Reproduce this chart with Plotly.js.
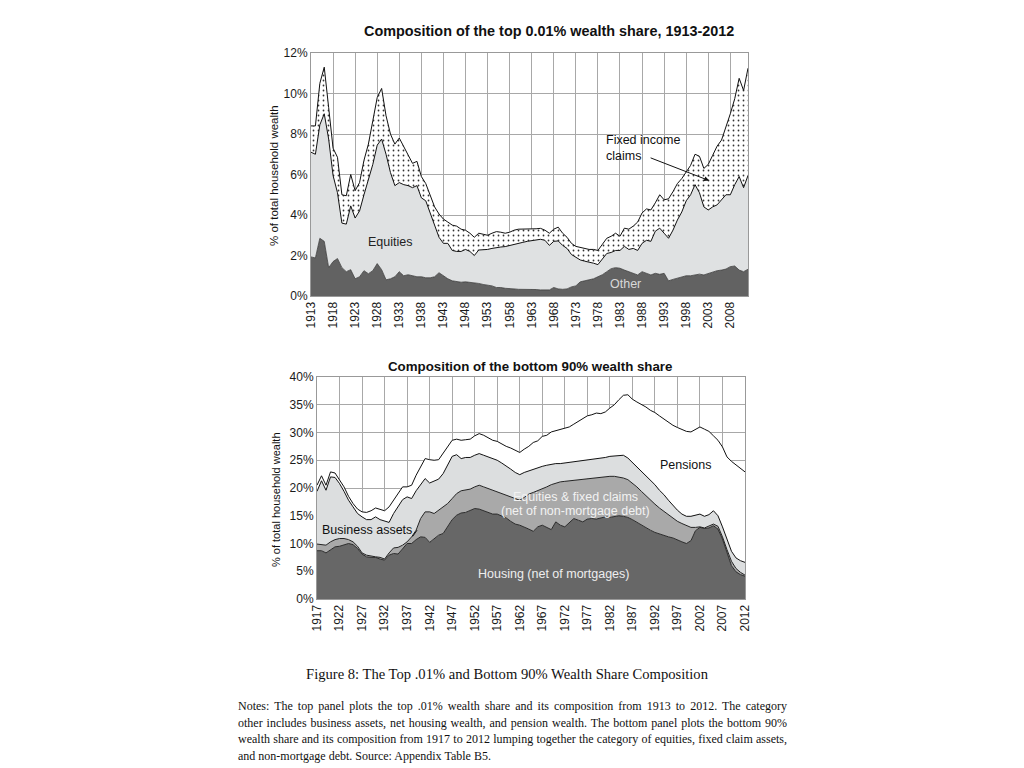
<!DOCTYPE html>
<html>
<head>
<meta charset="utf-8">
<script src="https://cdn.plot.ly/plotly-3.0.1.min.js"></script>
<style>
  html, body { margin: 0; padding: 0; background: #fff; }
  #wrap { position: relative; width: 1024px; height: 768px; overflow: hidden; }
  #chart { position: absolute; left: 0; top: 0; width: 1024px; height: 768px; }
  .cap { position: absolute; font-family: "Liberation Serif", "DejaVu Serif", serif; color: #111; white-space: nowrap; }
  #fig { left: 0; width: 1014px; top: 666px; text-align: center; font-size: 14.6px; }
  #notes { left: 238px; width: 549px; top: 698px; font-size: 12px; line-height: 16.6px; }
  #notes div { text-align: justify; text-align-last: justify; white-space: nowrap; height: 16.6px; }
  #notes div.last { text-align-last: left; }
</style>
</head>
<body>
<div id="wrap">
  <div id="chart"></div>
  <div id="fig" class="cap">Figure 8: The Top .01% and Bottom 90% Wealth Share Composition</div>
  <div id="notes" class="cap">
    <div>Notes: The top panel plots the top .01% wealth share and its composition from 1913 to 2012. The category</div>
    <div>other includes business assets, net housing wealth, and pension wealth. The bottom panel plots the bottom 90%</div>
    <div>wealth share and its composition from 1917 to 2012 lumping together the category of equities, fixed claim assets,</div>
    <div class="last">and non-mortgage debt. Source: Appendix Table B5.</div>
  </div>
</div>
<script>
// ---------- Top panel: top 0.01% wealth share (levels, % of household wealth) ----------
const topYears = [];
for (let y = 1913; y <= 2012; y++) topYears.push(y);

// upper edge of "Other"
const topOther = [
  1.93,1.88,2.85,2.7,1.4,1.7,1.85,1.4,1.2,1.3,
  0.85,0.95,1.25,1.1,1.25,1.6,1.3,0.8,0.85,0.95,
  1.2,1.0,1.05,1.0,0.95,0.95,0.9,0.9,0.95,1.15,
  1.0,0.85,0.75,0.7,0.68,0.7,0.68,0.63,0.62,0.57,
  0.54,0.5,0.42,0.42,0.38,0.38,0.35,0.33,0.33,0.34,
  0.33,0.32,0.3,0.3,0.3,0.42,0.35,0.33,0.35,0.45,
  0.5,0.7,0.75,0.8,0.85,0.95,1.05,1.2,1.35,1.4,
  1.37,1.28,1.2,1.12,1.04,1.2,1.12,1.04,1.12,1.07,
  1.12,0.75,0.82,0.87,0.92,1.0,1.0,1.04,1.08,1.04,
  1.12,1.2,1.25,1.28,1.33,1.45,1.48,1.28,1.2,1.32
];
// upper edge of "Equities" (Other + Equities)
const topOtherEquities = [
  7.1,7.0,8.45,9.0,7.75,5.95,5.1,3.6,3.55,4.45,
  3.85,4.2,5.0,5.8,6.5,7.45,7.75,7.0,6.1,5.45,
  5.6,5.5,5.45,5.35,5.45,4.85,4.7,4.1,3.45,2.9,
  2.6,2.6,2.25,2.2,2.2,2.3,2.2,2.0,2.27,2.27,
  2.3,2.35,2.4,2.42,2.44,2.5,2.55,2.6,2.65,2.7,
  2.73,2.75,2.8,2.75,2.5,2.7,2.72,2.5,2.35,2.05,
  1.9,1.78,1.72,1.68,1.62,1.55,1.85,2.1,2.15,2.25,
  2.25,2.45,2.3,2.35,2.25,2.6,2.75,2.7,3.2,3.35,
  3.1,2.85,3.25,3.75,4.15,4.7,5.0,5.5,5.1,4.4,
  4.25,4.4,4.5,4.75,5.0,5.0,5.5,5.9,5.35,5.95
];
// total top 0.01% share (Other + Equities + Fixed income claims)
const topTotal = [
  8.4,8.4,10.5,11.3,9.3,7.3,6.85,5.0,4.95,6.0,
  5.2,5.6,6.7,7.5,8.65,9.8,10.25,8.9,8.0,7.5,
  7.8,7.4,7.0,6.55,6.65,5.9,5.55,4.95,4.4,4.05,
  3.8,3.65,3.5,3.45,3.3,3.25,3.1,2.9,3.1,3.05,
  3.0,3.1,3.18,3.15,3.1,3.15,3.25,3.3,3.3,3.3,
  3.3,3.32,3.34,3.25,3.1,3.3,3.4,3.1,2.9,2.6,
  2.45,2.4,2.35,2.3,2.3,2.25,2.55,2.85,2.95,3.1,
  2.95,3.35,3.3,3.45,3.65,4.1,4.3,4.25,4.6,5.0,
  4.75,4.8,5.15,5.55,5.8,6.15,6.45,7.0,6.9,6.3,
  6.5,6.95,7.4,7.7,8.3,9.0,9.75,10.75,10.15,11.25
];

// ---------- Bottom panel: bottom 90% wealth share (levels) ----------
const botYears = [];
for (let y = 1917; y <= 2012; y++) botYears.push(y);

// upper edge of Housing (net of mortgages)
const botHousing = [
  8.7,8.7,8.3,8.9,9.4,9.5,9.8,10.0,9.8,9.1,
  8.1,7.6,7.5,7.5,7.2,7.0,7.9,8.2,8.1,9.1,
  10.0,10.0,10.7,11.2,11.1,10.2,10.9,11.5,11.8,13.0,
  14.3,15.1,15.5,15.6,16.0,16.3,16.2,15.9,15.6,15.3,
  15.3,15.0,14.6,14.0,13.5,13.3,13.0,12.6,12.2,13.0,
  13.3,12.9,12.5,13.9,13.3,13.0,13.8,14.5,14.2,13.9,
  14.4,14.5,14.4,14.6,14.8,14.7,14.9,15.0,14.9,14.7,
  14.3,13.8,13.4,12.9,12.4,12.0,11.7,11.4,11.2,11.0,
  10.6,10.3,10.0,10.5,12.3,12.9,12.7,12.8,13.2,12.6,
  10.8,8.3,6.0,4.9,4.4,4.1
];
// upper edge of Equities & fixed claims (Housing + Equities)
const botHousingEquities = [
  9.9,9.85,9.7,10.3,10.7,10.9,10.9,10.7,10.3,9.5,
  8.3,7.9,7.7,7.6,7.5,7.2,8.3,9.2,9.3,9.7,
  10.3,11.2,12.4,14.5,15.7,15.7,15.4,16.0,16.6,17.2,
  18.1,19.0,19.5,19.6,19.8,20.2,20.5,20.2,19.9,19.5,
  19.3,19.0,18.7,18.4,18.1,17.8,18.3,18.9,19.2,19.5,
  19.8,20.2,20.6,20.9,21.1,21.2,21.3,21.4,21.4,21.5,
  21.6,21.7,21.8,21.9,22.0,22.1,22.1,22.0,21.8,21.5,
  20.9,20.2,19.4,18.6,17.8,17.1,16.4,15.8,15.2,14.6,
  14.0,13.6,13.2,12.9,12.9,13.0,12.8,13.1,13.5,13.1,
  11.2,8.9,6.8,5.5,4.8,4.3
];
// upper edge of Business assets (Housing + Equities + Business)
const botHousingEquitiesBusiness = [
  19.4,21.3,19.6,22.0,21.9,20.8,19.4,17.8,16.6,15.4,
  14.8,14.3,14.3,14.8,14.3,14.0,13.8,15.4,16.7,17.9,
  18.4,18.1,19.5,20.7,21.7,20.9,21.3,21.6,22.6,24.3,
  25.7,26.0,25.3,25.5,25.5,25.9,26.2,25.9,25.6,25.3,
  25.0,24.5,24.0,23.4,22.8,22.4,22.8,23.1,23.3,23.6,
  23.9,24.1,24.3,24.4,24.4,24.5,24.6,24.7,24.8,24.9,
  25.0,25.1,25.2,25.3,25.5,25.7,25.8,25.9,25.9,25.4,
  24.6,23.8,23.1,22.3,21.5,20.6,19.6,18.8,17.8,16.8,
  16.0,15.3,14.9,14.9,15.1,15.3,14.9,15.2,15.9,15.0,
  13.0,10.7,8.6,7.4,6.9,6.6
];
// total bottom 90% share (incl. Pensions)
const botTotal = [
  20.5,22.2,20.5,22.9,22.7,21.4,20.2,18.5,17.2,16.2,
  15.7,15.6,15.9,16.4,16.1,15.9,16.6,17.8,18.8,20.2,
  20.2,20.5,22.3,23.9,25.3,25.1,25.0,25.1,26.2,27.3,
  28.6,28.8,28.6,28.7,28.8,29.4,29.8,29.5,29.1,28.6,
  28.4,27.9,27.5,27.2,26.8,26.4,27.0,27.5,28.2,28.5,
  29.3,29.5,30.1,30.3,30.5,30.7,31.0,31.5,32.0,32.4,
  33.0,33.2,33.5,33.4,33.7,34.4,35.0,35.9,36.7,36.8,
  36.0,35.5,35.1,34.6,34.0,33.6,33.0,32.4,31.8,31.3,
  30.9,30.6,30.2,30.1,30.6,31.0,30.6,30.2,29.4,28.6,
  27.4,25.6,24.8,24.2,23.6,22.9
];

const FONT = 'Liberation Sans, Arial, sans-serif';
const ln = (c, w) => ({color: c, width: w, shape: 'linear'});

const traces = [
  {x: topYears, y: topOther, name: 'Other', type: 'scatter', mode: 'lines',
   fill: 'tozeroy', fillcolor: '#626262', line: ln('#3a3a3a', 0.8), xaxis: 'x', yaxis: 'y'},
  {x: topYears, y: topOtherEquities, name: 'Equities', type: 'scatter', mode: 'lines',
   fill: 'tonexty', fillcolor: '#dfe1e2', line: ln('#111', 1), xaxis: 'x', yaxis: 'y'},
  {x: topYears, y: topTotal, name: 'Fixed income claims', type: 'scatter', mode: 'lines',
   fill: 'tonexty', fillcolor: '#ffffff',
   fillpattern: {shape: '.', fgcolor: '#333', bgcolor: '#ffffff', size: 5, solidity: 0.1},
   line: ln('#111', 1), xaxis: 'x', yaxis: 'y'},

  {x: botYears, y: botHousing, name: 'Housing (net of mortgages)', type: 'scatter', mode: 'lines',
   fill: 'tozeroy', fillcolor: '#676767', line: ln('#2a2a2a', 1), xaxis: 'x2', yaxis: 'y2'},
  {x: botYears, y: botHousingEquities, name: 'Equities & fixed claims', type: 'scatter', mode: 'lines',
   fill: 'tonexty', fillcolor: '#a9a9a9', line: ln('#222', 1), xaxis: 'x2', yaxis: 'y2'},
  {x: botYears, y: botHousingEquitiesBusiness, name: 'Business assets', type: 'scatter', mode: 'lines',
   fill: 'tonexty', fillcolor: '#dcdedf', line: ln('#111', 1), xaxis: 'x2', yaxis: 'y2'},
  {x: botYears, y: botTotal, name: 'Pensions', type: 'scatter', mode: 'lines',
   fill: 'tonexty', fillcolor: '#ffffff', line: ln('#111', 1), xaxis: 'x2', yaxis: 'y2'}
];

const axisCommon = {
  showgrid: true, gridcolor: '#a8a8a8', gridwidth: 1,
  showline: true, linecolor: '#999999', linewidth: 1, mirror: true,
  zeroline: false, ticks: '', tickfont: {family: FONT, size: 12, color: '#1a1a1a'}
};

const layout = {
  width: 1024, height: 768,
  margin: {l: 0, r: 0, t: 0, b: 0},
  paper_bgcolor: '#ffffff', plot_bgcolor: '#ffffff',
  showlegend: false,
  xaxis: Object.assign({}, axisCommon, {
    domain: [311/1024, 748/1024], range: [1913, 2012], anchor: 'y',
    tickmode: 'linear', tick0: 1913, dtick: 5, tickangle: -90
  }),
  yaxis: Object.assign({}, axisCommon, {
    domain: [1 - 296/768, 1 - 53/768], range: [0, 12], anchor: 'x',
    tickmode: 'linear', tick0: 0, dtick: 2, ticksuffix: '%'
  }),
  xaxis2: Object.assign({}, axisCommon, {
    domain: [317/1024, 745/1024], range: [1917, 2012], anchor: 'y2',
    tickmode: 'linear', tick0: 1917, dtick: 5, tickangle: -90
  }),
  yaxis2: Object.assign({}, axisCommon, {
    domain: [1 - 599/768, 1 - 377/768], range: [0, 40], anchor: 'x2',
    tickmode: 'linear', tick0: 0, dtick: 5, ticksuffix: '%'
  }),
  annotations: [
    {xref: 'paper', yref: 'paper', x: 549/1024, y: 1 - 31/768, text: '<b>Composition of the top 0.01% wealth share, 1913-2012</b>',
     showarrow: false, font: {family: FONT, size: 14.4, color: '#111'}, xanchor: 'center', yanchor: 'middle'},
    {xref: 'paper', yref: 'paper', x: 530/1024, y: 1 - 366/768, text: '<b>Composition of the bottom 90% wealth share</b>',
     showarrow: false, font: {family: FONT, size: 13.3, color: '#111'}, xanchor: 'center', yanchor: 'middle'},
    {xref: 'paper', yref: 'paper', x: 274/1024, y: 1 - 176/768, text: '% of total household wealth', textangle: -90,
     showarrow: false, font: {family: FONT, size: 11.5, color: '#111'}, xanchor: 'center', yanchor: 'middle'},
    {xref: 'paper', yref: 'paper', x: 276/1024, y: 1 - 500/768, text: '% of total household wealth', textangle: -90,
     showarrow: false, font: {family: FONT, size: 11, color: '#111'}, xanchor: 'center', yanchor: 'middle'},

    {xref: 'x', yref: 'y', x: 1931, y: 2.67, text: 'Equities', showarrow: false,
     font: {family: FONT, size: 12.5, color: '#222'}},
    {xref: 'x', yref: 'y', x: 1984.2, y: 0.6, text: 'Other', showarrow: false,
     font: {family: FONT, size: 12.5, color: '#d8d8d8'}},
    {xref: 'x', yref: 'y', x: 1979.4, y: 7.33, text: 'Fixed income<br>claims', showarrow: false, align: 'left',
     xanchor: 'left', font: {family: FONT, size: 12.5, color: '#111'}},
    {xref: 'x', yref: 'y', x: 2003.2, y: 5.7, axref: 'x', ayref: 'y', ax: 1989.6, ay: 6.85, text: '',
     showarrow: true, arrowhead: 2, arrowsize: 1, arrowwidth: 1, arrowcolor: '#111'},

    {xref: 'x2', yref: 'y2', x: 1998.7, y: 24.1, text: 'Pensions', showarrow: false,
     font: {family: FONT, size: 12.5, color: '#111'}},
    {xref: 'x2', yref: 'y2', x: 1974.3, y: 18.4, text: 'Equities &amp; fixed claims', showarrow: false,
     font: {family: FONT, size: 12.5, color: '#f2f2f2'}},
    {xref: 'x2', yref: 'y2', x: 1974.3, y: 15.9, text: '(net of non-mortgage debt)', showarrow: false,
     font: {family: FONT, size: 12.5, color: '#f2f2f2'}},
    {xref: 'x2', yref: 'y2', x: 1928.1, y: 12.4, text: 'Business assets', showarrow: false,
     font: {family: FONT, size: 12.5, color: '#111'}},
    {xref: 'x2', yref: 'y2', x: 1939.2, y: 12.4, axref: 'x2', ayref: 'y2', ax: 1938.0, ay: 11.0, text: '',
     showarrow: true, arrowhead: 0, arrowwidth: 1, arrowcolor: '#111'},
    {xref: 'x2', yref: 'y2', x: 1969.4, y: 4.5, text: 'Housing (net of mortgages)', showarrow: false,
     font: {family: FONT, size: 12.5, color: '#eeeeee'}}
  ]
};

Plotly.newPlot('chart', traces, layout, {staticPlot: true, displayModeBar: false});
</script>
</body>
</html>
